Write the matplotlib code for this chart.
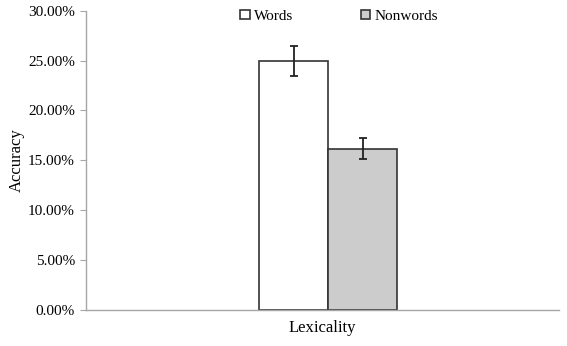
import matplotlib
matplotlib.use('Agg')
import matplotlib.pyplot as plt
from matplotlib.ticker import PercentFormatter

conditions = ['Words', 'Nonwords']
accuracy = [25.0, 16.15]
errors = [1.5, 1.05]
colors = ['white', '#cccccc']
yticks = [0, 5, 10, 15, 20, 25, 30]

plt.rcParams['font.family'] = 'Liberation Serif'

fig = plt.figure(figsize=(5.67, 3.46), dpi=100)
ax = fig.add_axes([0.1517, 0.104, 0.8343, 0.865])

width = 0.146
lefts = [0.366, 0.366 + width]
for left, val, err, col, lab in zip(lefts, accuracy, errors, colors, conditions):
    ax.bar(left, val, width=width, align='edge', color=col, edgecolor='#333333',
           linewidth=1.2, label=lab, zorder=2)
    ax.errorbar(left + width / 2, val, yerr=err, fmt='none', ecolor='#222222',
                elinewidth=1.3, capsize=3, capthick=1.3, zorder=3)

ax.set_xlim(0, 1)
ax.set_ylim(0, 30)
ax.set_yticks(yticks)
ax.yaxis.set_major_formatter(PercentFormatter(decimals=2))
ax.set_xticks([])
ax.set_xlabel('Lexicality', fontsize=12, labelpad=7)
ax.set_ylabel('Accuracy', fontsize=12, labelpad=2)

for side in ['top', 'right']:
    ax.spines[side].set_visible(False)
for side in ['left', 'bottom']:
    ax.spines[side].set_color('#a6a6a6')
    ax.spines[side].set_linewidth(1)
ax.tick_params(axis='y', length=4, color='#a6a6a6', labelsize=11, pad=4)

ax.legend(loc='upper center', bbox_to_anchor=(0.535, 1.05), ncol=2, frameon=False,
          fontsize=11, handlelength=0.6, handleheight=0.6, handletextpad=0.3,
          columnspacing=4.4)

fig.savefig('out.png', dpi=100)
